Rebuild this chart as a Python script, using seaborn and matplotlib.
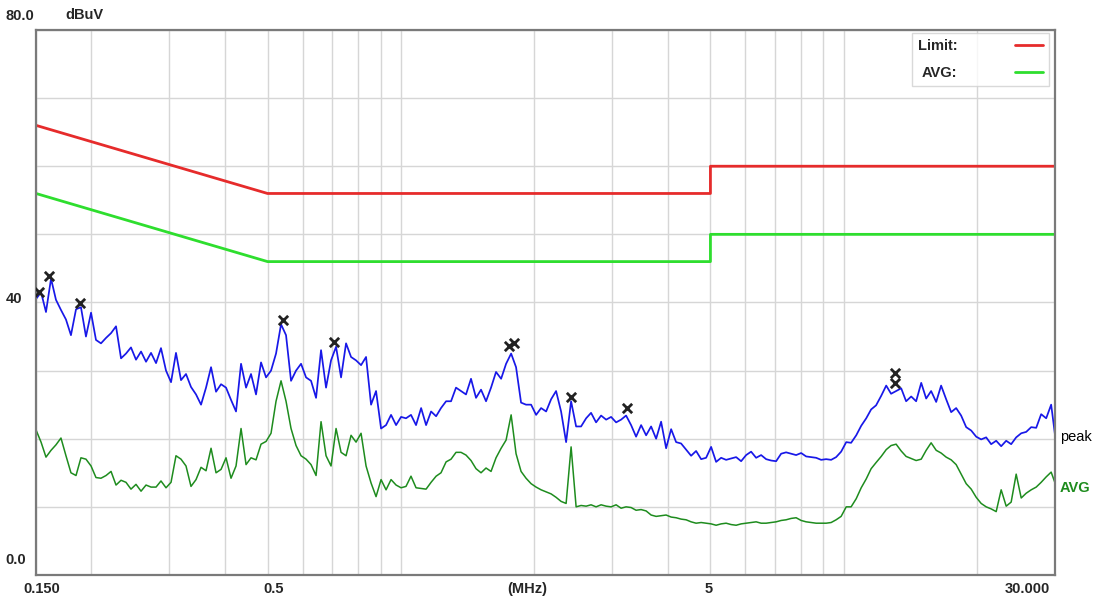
import numpy as np
import pandas as pd
import matplotlib
matplotlib.use("Agg")
import matplotlib.pyplot as plt
import matplotlib.ticker as mticker
from matplotlib.transforms import ScaledTranslation, blended_transform_factory
import seaborn as sns

# sweep frequencies (MHz) and levels (dBuV)
freq_mhz = [
    0.1500, 0.1540, 0.1580, 0.1622, 0.1664, 0.1708, 0.1753, 0.1799, 0.1847, 0.1895,
    0.1945, 0.1997, 0.2049, 0.2103, 0.2159, 0.2216, 0.2274, 0.2334, 0.2395, 0.2458,
    0.2523, 0.2590, 0.2658, 0.2728, 0.2800, 0.2873, 0.2949, 0.3027, 0.3106, 0.3188,
    0.3272, 0.3358, 0.3447, 0.3538, 0.3631, 0.3727, 0.3825, 0.3926, 0.4029, 0.4135,
    0.4244, 0.4356, 0.4471, 0.4588, 0.4709, 0.4833, 0.4961, 0.5091, 0.5225, 0.5363,
    0.5504, 0.5649, 0.5798, 0.5951, 0.6108, 0.6268, 0.6434, 0.6603, 0.6777, 0.6955,
    0.7139, 0.7327, 0.7520, 0.7718, 0.7921, 0.8130, 0.8344, 0.8564, 0.8789, 0.9021,
    0.9258, 0.9502, 0.9753, 1.001, 1.027, 1.054, 1.082, 1.111, 1.140, 1.170,
    1.201, 1.232, 1.265, 1.298, 1.332, 1.367, 1.403, 1.440, 1.478, 1.517,
    1.557, 1.598, 1.640, 1.684, 1.728, 1.774, 1.820, 1.868, 1.917, 1.968,
    2.020, 2.073, 2.128, 2.184, 2.241, 2.300, 2.361, 2.423, 2.487, 2.552,
    2.620, 2.688, 2.759, 2.832, 2.907, 2.983, 3.062, 3.142, 3.225, 3.310,
    3.397, 3.487, 3.579, 3.673, 3.770, 3.869, 3.971, 4.076, 4.183, 4.293,
    4.406, 4.522, 4.641, 4.764, 4.889, 5.018, 5.150, 5.286, 5.425, 5.568,
    5.715, 5.865, 6.020, 6.178, 6.341, 6.508, 6.679, 6.855, 7.036, 7.221,
    7.411, 7.607, 7.807, 8.013, 8.224, 8.440, 8.663, 8.891, 9.125, 9.366,
    9.612, 9.865, 10.13, 10.39, 10.67, 10.95, 11.24, 11.53, 11.83, 12.15,
    12.47, 12.79, 13.13, 13.48, 13.83, 14.20, 14.57, 14.96, 15.35, 15.75,
    16.17, 16.59, 17.03, 17.48, 17.94, 18.41, 18.90, 19.40, 19.91, 20.43,
    20.97, 21.52, 22.09, 22.67, 23.27, 23.88, 24.51, 25.16, 25.82, 26.50,
    27.20, 27.91, 28.65, 29.40, 30.00,
]

peak_dbuv = [
    40.5, 41.5, 38.6, 43.5, 40.4, 38.9, 37.5, 35.2, 39.0, 39.3,
    35.0, 38.5, 34.5, 34.0, 34.8, 35.5, 36.5, 31.8, 32.5, 33.4,
    31.6, 32.8, 31.3, 32.6, 31.1, 33.3, 30.0, 28.3, 32.6, 28.6,
    29.5, 27.6, 26.5, 25.0, 27.5, 30.5, 26.9, 28.0, 27.5, 25.7,
    24.0, 31.0, 27.5, 29.5, 26.5, 31.2, 29.0, 30.0, 32.5, 36.8,
    35.2, 28.5, 30.0, 31.0, 29.0, 28.5, 26.0, 33.0, 27.5, 31.5,
    33.5, 29.0, 34.0, 32.0, 31.5, 30.8, 32.0, 25.0, 27.0, 21.5,
    22.0, 23.5, 22.0, 23.2, 23.0, 23.5, 22.0, 24.5, 22.0, 24.0,
    23.3, 24.5, 25.5, 25.5, 27.5, 27.0, 26.5, 28.8, 26.0, 27.2,
    25.5, 27.5, 29.8, 28.8, 31.0, 32.5, 30.5, 25.3, 25.0, 25.0,
    23.5, 24.5, 24.0, 25.8, 27.0, 24.0, 19.5, 25.5, 21.8, 21.8,
    23.0, 23.8, 22.4, 23.4, 22.8, 23.2, 22.4, 22.8, 23.4, 22.0,
    20.3, 22.0, 20.5, 21.8, 20.0, 22.5, 18.6, 21.4, 19.5, 19.3,
    18.4, 17.5, 18.2, 17.0, 17.2, 18.8, 16.6, 17.2, 16.9, 17.1,
    17.3, 16.7, 17.6, 18.1, 17.2, 17.6, 17.0, 16.8, 16.7, 17.8,
    18.0, 17.8, 17.6, 17.9, 17.4, 17.3, 17.2, 16.9, 17.0, 16.9,
    17.3, 18.1, 19.5, 19.4, 20.5, 21.9, 23.0, 24.3, 24.9, 26.3,
    27.8, 26.6, 27.0, 27.4, 25.5, 26.2, 25.5, 28.2, 25.9, 27.0,
    25.4, 27.8, 25.8, 23.9, 24.5, 23.4, 21.7, 21.2, 20.3, 19.9,
    20.2, 19.2, 19.7, 18.9, 19.7, 19.2, 20.2, 20.8, 21.0, 21.7,
    21.6, 23.6, 23.0, 25.0, 20.5,
]

avg_dbuv = [
    21.3, 19.5, 17.3, 18.3, 19.1, 20.1, 17.5, 15.0, 14.6, 17.2,
    17.0, 16.0, 14.3, 14.2, 14.6, 15.2, 13.2, 13.9, 13.6, 12.6,
    13.3, 12.3, 13.2, 12.9, 12.9, 13.8, 12.8, 13.6, 17.5, 17.0,
    16.0, 13.0, 14.0, 15.8, 15.3, 18.6, 15.0, 15.5, 17.2, 14.2,
    16.0, 21.5, 16.2, 17.2, 16.9, 19.2, 19.6, 20.8, 25.5, 28.5,
    25.5, 21.5, 19.0, 17.5, 17.0, 16.2, 14.6, 22.5, 17.5, 16.0,
    21.5, 18.0, 17.5, 20.5, 19.5, 20.8, 16.0, 13.5, 11.5, 14.0,
    12.5, 14.0, 13.2, 12.8, 13.0, 14.5, 12.8, 12.7, 12.6, 13.6,
    14.5, 15.0, 16.6, 17.0, 18.0, 18.0, 17.6, 16.8, 15.6, 15.0,
    15.7, 15.2, 17.2, 18.6, 19.8, 23.5, 17.8, 15.2, 14.2, 13.4,
    12.9, 12.5, 12.2, 11.9, 11.4, 10.8, 10.5, 18.8, 10.0, 10.2,
    10.1, 10.3, 10.0, 10.3, 10.1, 10.0, 10.3, 9.8, 10.0, 9.9,
    9.5, 9.6, 9.4, 8.8, 8.6, 8.7, 8.8, 8.5, 8.4, 8.2,
    8.1, 7.8, 7.6, 7.7, 7.6, 7.5, 7.3, 7.5, 7.6, 7.4,
    7.3, 7.5, 7.6, 7.7, 7.8, 7.6, 7.6, 7.7, 7.8, 8.0,
    8.1, 8.3, 8.4, 8.0, 7.8, 7.7, 7.6, 7.6, 7.6, 7.7,
    8.1, 8.6, 10.0, 10.0, 11.2, 12.8, 14.1, 15.6, 16.5, 17.4,
    18.4, 19.0, 19.2, 18.2, 17.4, 17.1, 16.8, 17.0, 18.3, 19.4,
    18.3, 17.9, 17.3, 16.9, 16.2, 14.8, 13.4, 12.6, 11.4, 10.5,
    10.0, 9.7, 9.3, 12.5, 10.1, 10.7, 14.8, 11.3, 12.0, 12.5,
    12.9, 13.6, 14.4, 15.1, 13.5,
]

# limit lines (step at 5 MHz)
limit_freq = [0.15, 0.5, 5.0, 5.0, 30.0]
qp_limit = [66, 56, 56, 60, 60]
avg_limit = [56, 46, 46, 50, 50]

# peak markers
mark_freq = [0.1524, 0.1605, 0.1886, 0.542, 0.7065, 1.755, 1.801, 2.423, 3.242, 13.06, 13.06]
mark_level = [41.5, 43.9, 39.9, 37.4, 34.2, 33.6, 34.0, 26.1, 24.5, 29.6, 28.2]

x_ticks = [0.15, 0.5, 5, 30]
x_labels = ["0.150", "0.5", "5", "30.000"]
y_ticks = [0, 40, 80]
y_labels = ["0.0", "40", "80.0"]

sns.set_style("white")
plt.rcParams["font.family"] = ["Liberation Sans", "DejaVu Sans"]

fig = plt.figure(figsize=(10.94, 6.02), dpi=100)
ax = fig.add_axes([0.0329, 0.0449, 0.9315, 0.9053])

scan = pd.DataFrame({"freq": freq_mhz, "peak": peak_dbuv, "avg": avg_dbuv})
limits = pd.DataFrame({"freq": limit_freq, "qp": qp_limit, "avg": avg_limit})

sns.lineplot(data=limits, x="freq", y="qp", sort=False, estimator=None,
             color="#e62b2b", lw=2, label="Limit:", ax=ax)
sns.lineplot(data=limits, x="freq", y="avg", sort=False, estimator=None,
             color="#2ede2e", lw=2, label="AVG:", ax=ax)
sns.lineplot(data=scan, x="freq", y="peak", sort=False, estimator=None,
             color="#1818e8", lw=1.25, ax=ax)
sns.lineplot(data=scan, x="freq", y="avg", sort=False, estimator=None,
             color="#1e8c1e", lw=1.1, ax=ax)
sns.scatterplot(x=mark_freq, y=mark_level, marker="x", s=45, color="#222222",
                linewidth=2, ax=ax, zorder=5)

ax.set_xscale("log")
ax.set_xlim(0.15, 30)
ax.set_ylim(0, 80)
ax.set_xticks(x_ticks, x_labels)
ax.xaxis.set_minor_locator(mticker.LogLocator(base=10, subs=np.arange(1.0, 10.0), numticks=50))
ax.xaxis.set_minor_formatter(mticker.NullFormatter())
ax.set_yticks(y_ticks, y_labels)
ax.yaxis.set_minor_locator(mticker.MultipleLocator(10))
ax.set_xlabel("")
ax.set_ylabel("")
ax.set_axisbelow(True)
ax.grid(True, which="both", color="#d6d6d6", lw=1)

ax.tick_params(axis="x", which="both", length=0, pad=5, labelsize=10.5)
ax.tick_params(axis="y", which="both", length=0, pad=22, labelsize=10.5)

for lbl, dx in zip(ax.get_xticklabels(), [4.3, 4.3, -1.4, -3.6]):
    lbl.set_fontweight("bold")
    lbl.set_transform(lbl.get_transform() + ScaledTranslation(dx / 72, 0, fig.dpi_scale_trans))
ax.get_xticklabels()[-1].set_ha("right")
for lbl, dy in zip(ax.get_yticklabels(), [11.5, 3.6, 10.8]):
    lbl.set_fontweight("bold")
    lbl.set_ha("left")
    lbl.set_transform(lbl.get_transform() + ScaledTranslation(0, dy / 72, fig.dpi_scale_trans))

for s in ax.spines.values():
    s.set_color("#7a7a7a")
    s.set_linewidth(1.6)

leg = ax.legend(loc="upper right", bbox_to_anchor=(0.9941, 0.9945), borderaxespad=0,
                markerfirst=False, frameon=True, fancybox=False, edgecolor="#d0d0d0",
                handlelength=1.9, handletextpad=4.0, borderpad=0.4, labelspacing=0.9,
                prop={"weight": "bold", "size": 10.5})
leg.get_frame().set_linewidth(1)

ax.text(0.4818, -0.013, "(MHz)", transform=ax.transAxes, ha="center", va="top",
        fontsize=10.5, fontweight="bold")
fig.text(65 / 1094, 1 - 15 / 602, "dBuV", ha="left", va="center", fontsize=10.5, fontweight="bold")

side = blended_transform_factory(ax.transAxes, ax.transData)
ax.text(1.0049, 20.3, "peak", transform=side, ha="left", va="center", fontsize=10.5,
        color="black", clip_on=False)
ax.text(1.0049, 12.8, "AVG", transform=side, ha="left", va="center", fontsize=10.5,
        color="#1e8c1e", fontweight="bold", clip_on=False)

fig.savefig("out.png", dpi=100)
